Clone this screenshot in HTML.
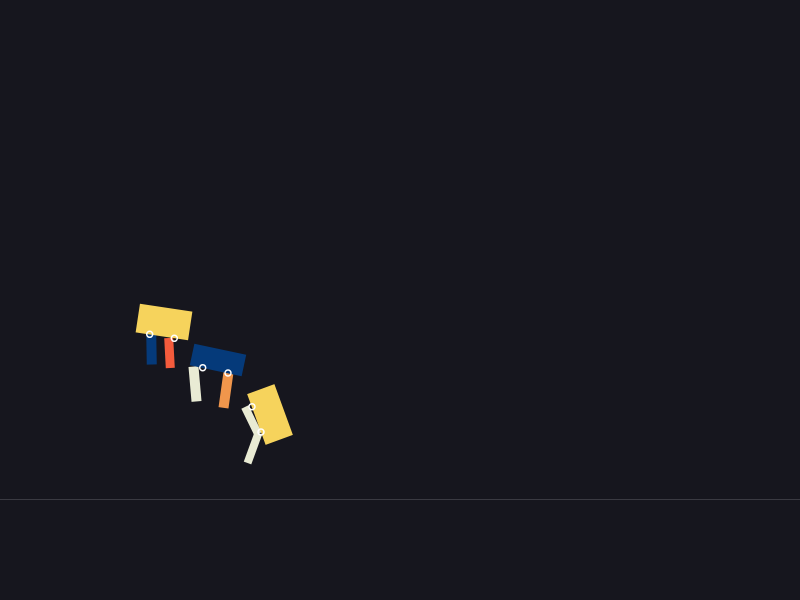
<!DOCTYPE html>
<html><head><meta charset="utf-8"><style>
html,body{margin:0;padding:0;background:#16161e;}
svg{display:block}
</style></head><body>
<svg width="800" height="600" viewBox="0 0 800 600">
<rect x="0" y="0" width="800" height="600" fill="#16161e"/>
<line x1="0" y1="499.5" x2="800" y2="499.5" stroke="#3a3a42" stroke-width="1"/>

<g>
 <rect x="-4.5" y="-15" width="9" height="30" fill="#f45b3c" transform="translate(169.5,353) rotate(-3)"/>
 <rect x="-5" y="-15.5" width="10" height="31" fill="#053a7a" transform="translate(151.5,349) rotate(-1)"/>
 <rect x="-26.5" y="-14.5" width="53" height="29" fill="#f6d35c" transform="translate(164,322) rotate(8.6)"/>
 <circle cx="149.7" cy="334.3" r="3" fill="none" stroke="#fff" stroke-width="1.5"/>
 <circle cx="174.3" cy="338.3" r="3" fill="none" stroke="#fff" stroke-width="1.5"/>
</g>

<g>
 <rect x="-5" y="-17.5" width="10" height="35" fill="#e9ebd4" transform="translate(195,384) rotate(-5)"/>
 <rect x="-5" y="-18" width="10" height="36" fill="#f0964c" transform="translate(226,390) rotate(8)"/>
 <rect x="-26.5" y="-11" width="53" height="22" fill="#053a7a" transform="translate(218,360) rotate(12)"/>
 <circle cx="202.7" cy="367.7" r="3" fill="none" stroke="#fff" stroke-width="1.5"/>
 <circle cx="228" cy="373" r="3" fill="none" stroke="#fff" stroke-width="1.5"/>
</g>

<g>
 <rect x="-4" y="-15" width="8" height="30" fill="#e9ebd4" transform="translate(251.5,420.5) rotate(-26)"/>
 <rect x="-4" y="-16" width="8" height="32" fill="#e9ebd4" transform="translate(253,448) rotate(20)"/>
 <rect x="-14.5" y="-27" width="29" height="54" fill="#f6d35c" transform="translate(270,414.5) rotate(-20)"/>
 <circle cx="252" cy="406.7" r="3" fill="none" stroke="#fff" stroke-width="1.5"/>
 <circle cx="261" cy="432" r="3" fill="none" stroke="#fff" stroke-width="1.5"/>
</g>
</svg>
</body></html>
